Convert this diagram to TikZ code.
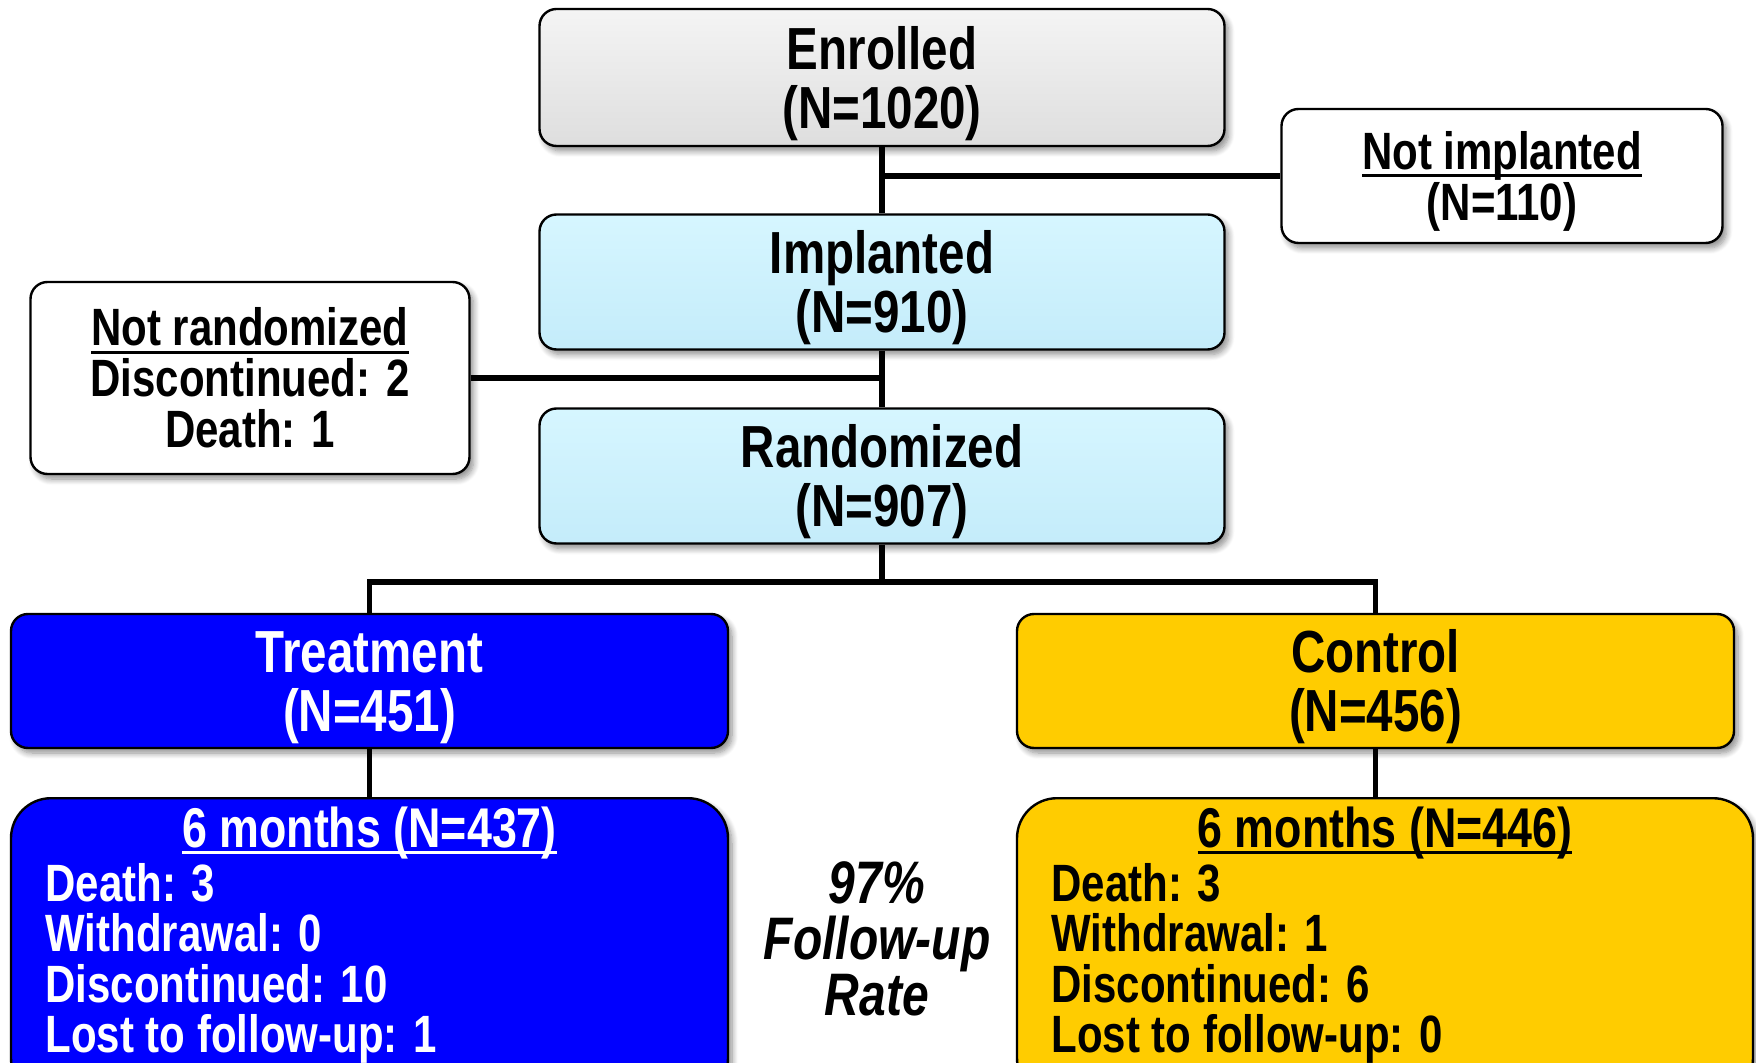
\documentclass[tikz,border=0pt]{standalone}
\usepackage{fontspec}
\setmainfont{Liberation Sans}[FakeStretch=0.8]
\usepackage{xcolor}
\usepackage{tikz}
\usetikzlibrary{positioning, shadows, shadows.blur, calc}

\definecolor{greytop}{RGB}{244,244,244}
\definecolor{greybot}{RGB}{222,222,222}
\definecolor{cyantop}{RGB}{214,246,255}
\definecolor{cyanbot}{RGB}{196,236,250}
\definecolor{treatblue}{RGB}{0,0,255}
\definecolor{ctrlgold}{RGB}{255,204,0}

% underline with fixed offset
\newcommand{\ulined}[2][0.15em]{\setbox0=\hbox{#2}\rlap{\rule[-#1]{\wd0}{0.058em}}\box0}
% pushes a two-line label a little down in its box
\newcommand{\topstrut}{\rule{0pt}{0.93em}}

\begin{document}
\begin{tikzpicture}[
  x=0.5pt, y=-0.5pt,
  box/.style={
    rectangle, rounded corners=8.5pt, draw, line width=1.2pt, align=center,
    font=\bfseries\fontsize{29.7}{29.5}\selectfont, inner sep=0pt,
    blur shadow={shadow xshift=2pt, shadow yshift=-2.5pt, shadow blur radius=3pt,
      shadow blur steps=8, shadow opacity=45}
  },
  greybox/.style={top color=greytop, bottom color=greybot},
  cyanbox/.style={top color=cyantop, bottom color=cyanbot},
  sidebox/.style={fill=white, font=\bfseries\fontsize{26.25}{25.5}\selectfont},
  mainbox/.style={minimum width=342.5pt, minimum height=67.5pt},
  armbox/.style={minimum width=358.5pt, minimum height=67pt},
  bigbox/.style={box, rounded corners=20pt, minimum height=150pt, anchor=north},
  listtext/.style={font=\bfseries\fontsize{26.25}{25.5}\selectfont, anchor=base west, inner sep=0pt},
  titletext/.style={font=\bfseries\fontsize{28}{27}\selectfont, anchor=base, inner sep=0pt},
  conn/.style={line width=2.6pt}
]
\useasboundingbox (0,0) rectangle (1756,1063);
\clip (0,0) rectangle (1756,1063);

% ==================== NODES ====================
% Top chain
\node[box, greybox, mainbox, minimum height=68.5pt] (enrolled) at (882,77.5) {\topstrut Enrolled\\(N=1020)};
\node[box, cyanbox, mainbox] (implanted) at (882,282) {\topstrut Implanted\\(N=910)};
\node[box, cyanbox, mainbox] (randomized) at (882,476) {\topstrut Randomized\\(N=907)};

% Exclusions
\node[box, sidebox, minimum width=220.5pt, minimum height=67pt] (notimpl) at (1502,176) {\topstrut\ulined{Not implanted}\\(N=110)};
\node[box, sidebox, minimum width=219.5pt, minimum height=96pt] (notrand) at (250,378) {\ulined{Not randomized}\\Discontinued: 2\\Death: 1};

% Arms
\node[box, armbox, fill=treatblue, text=white] (treatment) at (369.5,681) {\topstrut Treatment\\(N=451)};
\node[box, armbox, fill=ctrlgold] (control) at (1375.5,681) {\topstrut Control\\(N=456)};

% 6 month follow-up
\node[bigbox, fill=treatblue, minimum width=358.5pt] (treat6) at (369.5,797) {};
\node[titletext, text=white] (treat6title) at (369.5,847) {\ulined[0.13em]{6 months (N=437)}};
\foreach \txt [count=\i] in {Death: 3, Withdrawal: 0, Discontinued: 10, Lost to follow-up: 1}
  \node[listtext, text=white] (treatline\i) at ({45}, {901+50.6*(\i-1)}) {\txt};

\node[bigbox, fill=ctrlgold, minimum width=368pt] (ctrl6) at (1385,797) {};
\node[titletext] (ctrl6title) at (1385,847) {\ulined[0.13em]{6 months (N=446)}};
\foreach \txt [count=\i] in {Death: 3, Withdrawal: 1, Discontinued: 6, Lost to follow-up: 0}
  \node[listtext] (ctrlline\i) at ({1051}, {901+50.6*(\i-1)}) {\txt};

% Follow-up rate
\node[font=\bfseries\itshape\fontsize{30}{28}\selectfont, align=center] (rate) at (877,939) {97\%\\Follow-up\\Rate};

% ==================== CONNECTIONS ====================
\draw[conn] (enrolled.south) -- (implanted.north);
\draw[conn] (enrolled.south |- notimpl.west) -- (notimpl.west);

\draw[conn] (implanted.south) -- (randomized.north);
\draw[conn] (notrand.east) -- (notrand.east -| implanted.south);

\coordinate (split) at (882,582);
\draw[conn] (randomized.south) -- (split);
\draw[conn] (treatment.north) |- (split) -| (control.north);

\draw[conn] (treatment.south) -- (treat6.north);
\draw[conn] (control.south) -- (control.south |- ctrl6.north);
\end{tikzpicture}
\end{document}
